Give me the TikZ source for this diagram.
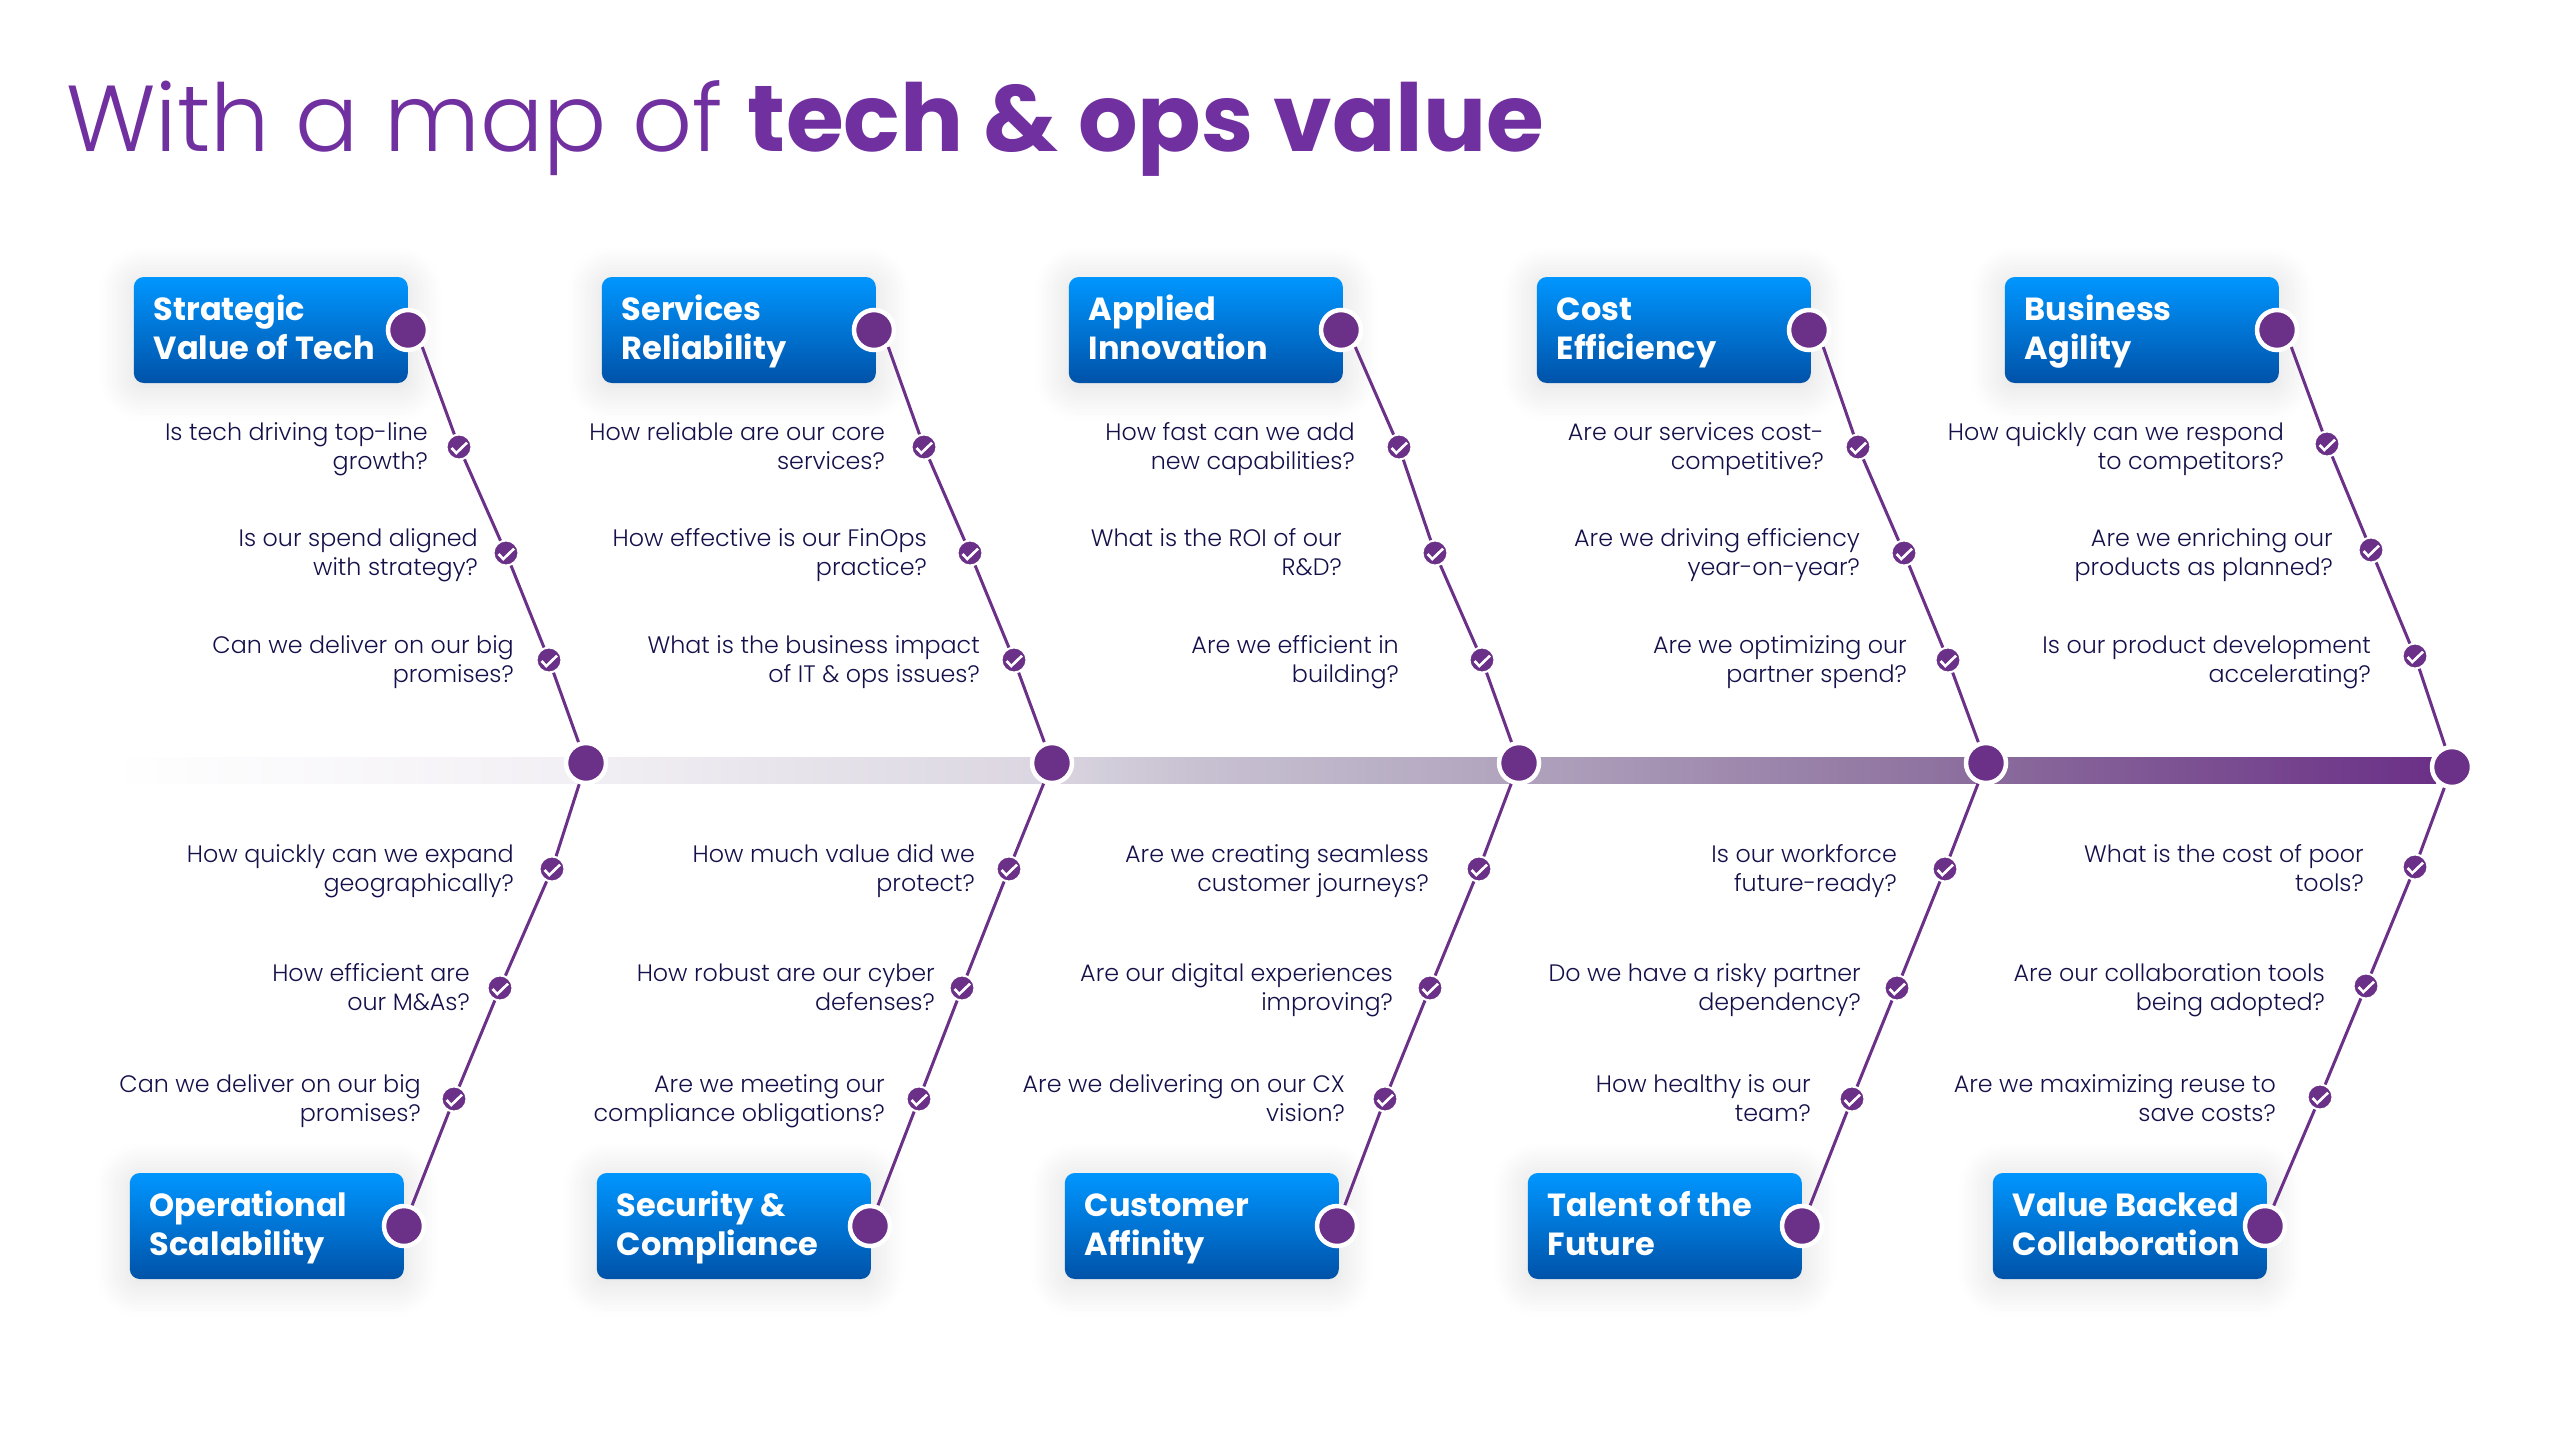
\documentclass[tikz,border=0pt]{standalone}
\usepackage{fontspec}
\setmainfont{Poppins}
\newfontfamily\lightfont{Poppins Light}
\usetikzlibrary{shadows.blur}

\definecolor{plum}{HTML}{6B3087}
\definecolor{titleplum}{HTML}{7030A0}
\definecolor{navy}{HTML}{14104A}
\definecolor{boxtop}{HTML}{0096FF}
\definecolor{boxbot}{HTML}{0052A8}
\definecolor{spinea}{HTML}{F2EFF4}
\definecolor{spineb}{HTML}{DAD5E0}
\definecolor{spinec}{HTML}{C9C3D3}
\definecolor{spined}{HTML}{B0A3BD}
\definecolor{spinee}{HTML}{8A6C9C}

\tikzset{
  headbox/.style={rectangle, rounded corners=10pt, top color=boxtop, bottom color=boxbot,
    minimum width=274pt, minimum height=106pt, inner sep=0pt, anchor=east,
    blur shadow={shadow blur steps=12, shadow blur radius=34pt, shadow xshift=0pt,
      shadow yshift=-4pt, shadow opacity=14}},
  headtxt/.style={anchor=base west, align=left, inner sep=0pt, xshift=20pt, yshift=-29.5pt, text=white,
    font=\fontsize{32}{39}\selectfont\bfseries},
  hubdot/.style={circle, fill=plum, draw=white, line width=4.5pt, minimum size=40pt, inner sep=0pt},
  chkdot/.style={circle, fill=plum, draw=white, line width=2pt, minimum size=25pt, inner sep=0pt,
    path picture={\draw[white, line width=2.6pt, shift={(path picture bounding box.center)}]
      (-7.5,1) -- (-2.7,6) -- (8,-4.3);}},
  ques/.style={anchor=base east, align=right, text=navy, inner sep=0pt, yshift=-23pt,
    font=\lightfont\fontsize{23.8}{29}\selectfont},
  leg/.style={plum, line width=3pt}
}

\begin{document}
\begin{tikzpicture}[x=1pt, y=-1pt]
  \useasboundingbox (0,0) rectangle (2560,1440);

  % --- Title ---
  \node[anchor=base west, inner sep=0pt, text=titleplum, font=\fontsize{93.7}{96}\selectfont] (title) at (66,151)
    {{\lightfont With a map of} \textbf{tech \& ops value}};

  % Spine, fading in from the left
  \shade[left color=white, right color=spinea] (110,757) rectangle (586,783);
  \shade[left color=spinea, right color=spineb] (586,757) rectangle (1052,783);
  \shade[left color=spineb, right color=spinec] (1052,757) rectangle (1180,783);
  \shade[left color=spinec, right color=spined] (1180,757) rectangle (1519,783);
  \shade[left color=spined, right color=spinee] (1519,757) rectangle (1986,783);
  \shade[left color=spinee, right color=plum] (1986,757) rectangle (2436,783);

  % Hubs on the spine
  \foreach \n/\x/\y in {1/586/763, 2/1052/763, 3/1519/763, 4/1986/763, 5/2452/767}
    \node[hubdot] (hub\n) at (\x,\y) {};

  % Top heading boxes
  \foreach \n/\bx/\x/\txt in {1/408/408/{Strategic\\Value of Tech}, 2/876/874/{Services\\Reliability},
      3/1343/1341/{Applied\\Innovation}, 4/1811/1809/{Cost\\Efficiency}, 5/2279/2277/{Business\\Agility}} {
    \node[headbox] (top\n) at (\bx,330) {};
    \node[headtxt] (toptxt\n) at (top\n.west) {\txt};
    \node[hubdot] (topdot\n) at (\x,330) {};
  }

  % Bottom heading boxes
  \foreach \n/\bx/\x/\txt in {1/404/404/{Operational\\Scalability}, 2/871/870/{Security \&\\Compliance},
      3/1339/1337/{Customer\\Affinity}, 4/1802/1802/{Talent of the\\Future}, 5/2267/2265/{Value Backed\\Collaboration}} {
    \node[headbox] (bot\n) at (\bx,1226) {};
    \node[headtxt] (bottxt\n) at (bot\n.west) {\txt};
    \node[hubdot] (botdot\n) at (\x,1226) {};
  }

  % Questions above the spine
  \foreach \id/\cx/\cy/\tx/\ty/\txt in {
      1a/459/447/428/446.5/{Is tech driving top-line\\growth?},
      1b/506/553/478/552.5/{Is our spend aligned\\with strategy?},
      1c/549/660/514/659.5/{Can we deliver on our big\\promises?},
      2a/924/447/885/446.5/{How reliable are our core\\services?},
      2b/970/553/927/552.5/{How effective is our FinOps\\practice?},
      2c/1014/660/980/659.5/{What is the business impact\\of IT \& ops issues?},
      3a/1399/447/1355/446.5/{How fast can we add\\new capabilities?},
      3b/1435/553/1342/552.5/{What is the ROI of our\\R\&D?},
      3c/1482/660/1399/659.5/{Are we efficient in\\building?},
      4a/1858/447/1824/446.5/{Are our services cost-\\competitive?},
      4b/1904/553/1860/552.5/{Are we driving efficiency\\year-on-year?},
      4c/1948/660/1907/659.5/{Are we optimizing our\\partner spend?},
      5a/2327/444/2284/446.5/{How quickly can we respond\\to competitors?},
      5b/2371/550/2333/552.5/{Are we enriching our\\products as planned?},
      5c/2415/656/2371/659.5/{Is our product development\\accelerating?}} {
    \node[chkdot] (chk\id) at (\cx,\cy) {};
    \node[ques] (q\id) at (\tx,\ty) {\txt};
  }

  % Questions below the spine
  \foreach \id/\cx/\cy/\tx/\ty/\txt in {
      6a/552/869/514/868/{How quickly can we expand\\geographically?},
      6b/500/988/470/987/{How efficient are\\our M\&As?},
      6c/454/1099/421/1098/{Can we deliver on our big\\promises?},
      7a/1009/869/975/868/{How much value did we\\protect?},
      7b/962/988/935/987/{How robust are our cyber\\defenses?},
      7c/919/1099/885/1098/{Are we meeting our\\compliance obligations?},
      8a/1479/869/1429/868/{Are we creating seamless\\customer journeys?},
      8b/1430/988/1393/987/{Are our digital experiences\\improving?},
      8c/1385/1099/1345/1098/{Are we delivering on our CX\\vision?},
      9a/1945/869/1897/868/{Is our workforce\\future-ready?},
      9b/1897/988/1861/987/{Do we have a risky partner\\dependency?},
      9c/1852/1099/1811/1098/{How healthy is our\\team?},
      10a/2415/867/2364/868/{What is the cost of poor\\tools?},
      10b/2366/986/2325/987/{Are our collaboration tools\\being adopted?},
      10c/2320/1097/2276/1098/{Are we maximizing reuse to\\save costs?}} {
    \node[chkdot] (chk\id) at (\cx,\cy) {};
    \node[ques] (q\id) at (\tx,\ty) {\txt};
  }

  % Legs from the heading dots to the hubs
  \foreach \n [evaluate=\n as \m using int(\n+5)] in {1,...,5} {
    \draw[leg] (topdot\n.-50) -- (chk\n a) -- (chk\n b) -- (chk\n c) -- (hub\n);
    \draw[leg] (botdot\n) -- (chk\m c) -- (chk\m b) -- (chk\m a) -- (hub\n);
  }
\end{tikzpicture}
\end{document}
